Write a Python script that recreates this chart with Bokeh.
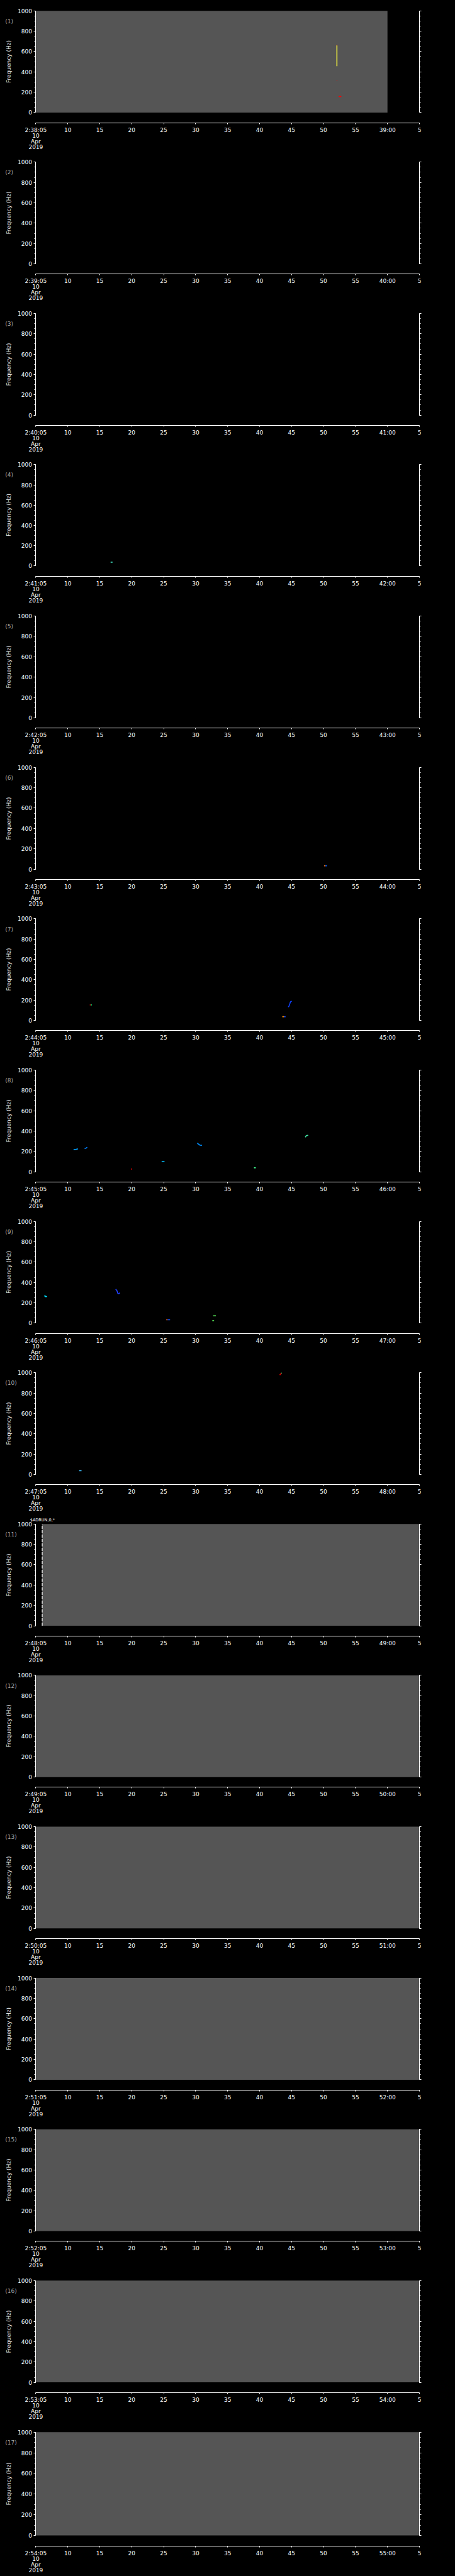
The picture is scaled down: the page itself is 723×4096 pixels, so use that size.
from bokeh.plotting import figure
from bokeh.models import FixedTicker, LinearAxis, Range1d, Label, ColumnDataSource
from bokeh.layouts import column
from bokeh.embed import file_html
from bokeh.resources import INLINE

# ---------------- data ----------------
panel_numbers = list(range(1, 18))
start_labels = ["2:%02d:05" % m for m in range(38, 55)]
minute_labels = ["%02d:00" % m for m in range(39, 56)]
date_lines = ["10", "Apr", "2019"]

time_ticks = [5, 10, 15, 20, 25, 30, 35, 40, 45, 50, 55, 60, 65]
freq_ticks = [0, 200, 400, 600, 800, 1000]
freq_minor = list(range(0, 1001, 50))

# grey = periods with data coverage (panel, start s, end s)
cover_panel = [1, 11, 12, 13, 14, 15, 16, 17]
cover_start = [5, 6, 5, 5, 5, 5, 5, 5]
cover_end = [60, 65, 65, 65, 65, 65, 65, 65]

# data-start marker (dashed)
gap_panel = [11]
gap_time = [6]

# detected spectral traces
speck_panel = [1, 1, 1, 1,
               4,
               6, 6,
               7, 7, 7, 7, 7,
               8, 8, 8, 8, 8, 8, 8,
               9, 9, 9, 9, 9, 9,
               10, 10, 10]
speck_t = [[52.09, 52.09], [52.06, 52.12], [52.05, 52.12], [52.37, 52.78],
           [16.7, 17.0],
           [50.08, 50.3], [50.3, 50.55],
           [13.44, 13.6], [13.6, 13.75],
           [44.49, 44.61, 44.73, 44.80, 44.88, 45.04],
           [43.55, 43.8], [43.8, 44.06],
           [10.91, 11.3, 11.59], [12.63, 12.85, 13.04], [19.9, 20.05],
           [24.68, 25.13], [30.25, 30.45, 30.7, 30.98], [39.12, 39.4],
           [47.15, 47.3, 47.6],
           [6.43, 6.43, 6.75], [17.49, 17.69, 17.81, 17.96, 18.16],
           [25.4, 25.6], [25.6, 26.0], [32.73, 33.17], [32.6, 32.88],
           [43.15, 43.42], [43.38, 43.45], [11.78, 12.15]]
speck_f = [[455, 661], [658, 661], [316, 316], [157, 157],
           [37, 37],
           [33, 33], [33, 33],
           [153, 153], [153, 153],
           [132, 143, 165, 179, 186, 189],
           [37, 37], [37, 37],
           [219, 221, 225], [229, 232, 241], [27, 27],
           [100, 100], [283, 271, 261, 260], [39, 39],
           [340, 355, 359],
           [275, 261, 261], [334, 319, 294, 287, 299],
           [33, 33], [33, 33], [72, 72], [24, 24],
           [977, 996], [996, 996], [37, 37]]
speck_color = ["#e8e840", "#ff2000", "#ff0000", "#ff0000",
               "#40e0c0",
               "#ff7000", "#0060ff",
               "#c00000", "#00ff80",
               "#1040ff",
               "#ff9000", "#2050ff",
               "#00a0ff", "#0080ff", "#ff0000",
               "#00c0ff", "#0090ff", "#40ff90",
               "#40e0a0",
               "#00e0ff", "#2040ff",
               "#ff6000", "#1050ff", "#60ff60", "#60ff60",
               "#e00000", "#40ff80", "#40c0ff"]

# ---------------- layout ----------------
S = 0.705
P = 5802 * S / 17.0          # panel pitch (px)
W = 723
AX_X = 56.4                  # left axis position (px)
FRAME_R = 666                # right edge of plot area (px)
KX = (FRAME_R - AX_X) / 60.0  # px per second
KY = 233 * S / 1000.0         # px per Hz
FONT = "DejaVu Sans"
tops = [round(i * P) for i in range(17)] + [4096]

figs = []
for i in range(17):
    n = panel_numbers[i]
    top_abs = i * P
    h = tops[i + 1] - tops[i]
    bt = top_abs + 24 * S - tops[i]              # 1000 Hz line, from figure top
    fb = round(top_abs + 280.5 * S) - tops[i]    # time axis line, from figure top
    y_end = 1000 + bt / KY
    y_start = -(fb - bt - 233 * S) / KY
    x_start = 5 - AX_X / KX
    p = figure(width=W, height=h, x_range=Range1d(x_start, 65),
               y_range=Range1d(y_start, y_end),
               output_backend="svg", toolbar_location=None,
               min_border_left=0, min_border_right=W - FRAME_R,
               min_border_top=0, min_border_bottom=h - fb,
               background_fill_color="black", border_fill_color="black",
               outline_line_color=None)
    p.title.visible = False
    p.grid.visible = False

    # grey coverage
    idx = [k for k, pn in enumerate(cover_panel) if pn == n]
    if idx:
        src = ColumnDataSource(dict(left=[cover_start[k] for k in idx],
                                    right=[cover_end[k] for k in idx],
                                    bottom=[0] * len(idx), top=[1000] * len(idx)))
        p.quad(left="left", right="right", bottom="bottom", top="top", source=src,
               fill_color="#555555", line_color=None)
    gidx = [k for k, pn in enumerate(gap_panel) if pn == n]
    for k in gidx:
        p.segment(x0=[gap_time[k]], y0=[0], x1=[gap_time[k]], y1=[1000],
                  line_color="white", line_width=1.2, line_dash="5 2")

    sidx = [k for k, pn in enumerate(speck_panel) if pn == n]
    if sidx:
        src = ColumnDataSource(dict(xs=[speck_t[k] for k in sidx],
                                    ys=[speck_f[k] for k in sidx],
                                    c=[speck_color[k] for k in sidx]))
        p.multi_line(xs="xs", ys="ys", line_color="c", line_width=1.6, source=src)

    # time axis
    xa = p.xaxis[0]
    xa.ticker = FixedTicker(ticks=time_ticks, minor_ticks=[])
    xa.bounds = (5, 65)
    ov = {t: str(t) for t in time_ticks}
    ov[5] = "\n".join([start_labels[i]] + date_lines)
    ov[60] = minute_labels[i]
    ov[65] = "5"
    xa.major_label_overrides = ov
    xa.axis_line_color = "white"
    xa.axis_line_width = 1
    xa.major_tick_line_color = "white"
    xa.major_tick_out = 2
    xa.major_tick_in = 0
    xa.minor_tick_line_color = None
    xa.major_label_text_color = "white"
    xa.major_label_text_font = FONT
    xa.major_label_text_font_size = "9px"
    xa.major_label_text_line_height = 0.91
    xa.major_label_standoff = 4

    # frequency axes
    ya = p.yaxis[0]
    ya.fixed_location = 5
    ya.ticker = FixedTicker(ticks=freq_ticks, minor_ticks=freq_minor)
    ya.bounds = (0, 1000)
    ya.axis_line_color = "white"
    ya.major_tick_line_color = "white"
    ya.minor_tick_line_color = "white"
    ya.major_tick_out = 3
    ya.major_tick_in = 0
    ya.minor_tick_out = 2
    ya.minor_tick_in = 0
    ya.major_label_text_color = "white"
    ya.major_label_text_font = FONT
    ya.major_label_text_font_size = "9px"
    ya.major_label_standoff = 3
    ya.axis_label = "Frequency (Hz)"
    ya.axis_label_text_color = "#e8e8e8"
    ya.axis_label_text_font = FONT
    ya.axis_label_text_font_size = "9px"
    ya.axis_label_text_font_style = "normal"
    ya.axis_label_standoff = 6

    ra = LinearAxis(ticker=FixedTicker(ticks=freq_ticks, minor_ticks=freq_minor),
                    bounds=(0, 1000), axis_line_color="white",
                    major_tick_line_color="white", minor_tick_line_color="white",
                    major_tick_out=3, major_tick_in=0, minor_tick_out=2, minor_tick_in=0,
                    major_label_overrides={t: "" for t in freq_ticks},
                    major_label_text_font_size="1px")
    p.add_layout(ra, "right")

    p.add_layout(Label(x=0.21, y=897, text="(%d)" % n, text_color="#a8a8a8",
                       text_font=FONT, text_font_size="9px",
                       text_baseline="middle", text_align="left"))
    if n == 11:
        p.add_layout(Label(x=4.1, y=1036, text="$ADRUN,0,*", text_color="white",
                           text_font=FONT, text_font_size="6.5px",
                           text_baseline="middle", text_align="left"))
    figs.append(p)

layout = column(*figs, spacing=0,
                styles={"position": "absolute", "top": "0px", "left": "0px",
                        "background-color": "black"})
open("out.html", "w").write(file_html(layout, INLINE))
